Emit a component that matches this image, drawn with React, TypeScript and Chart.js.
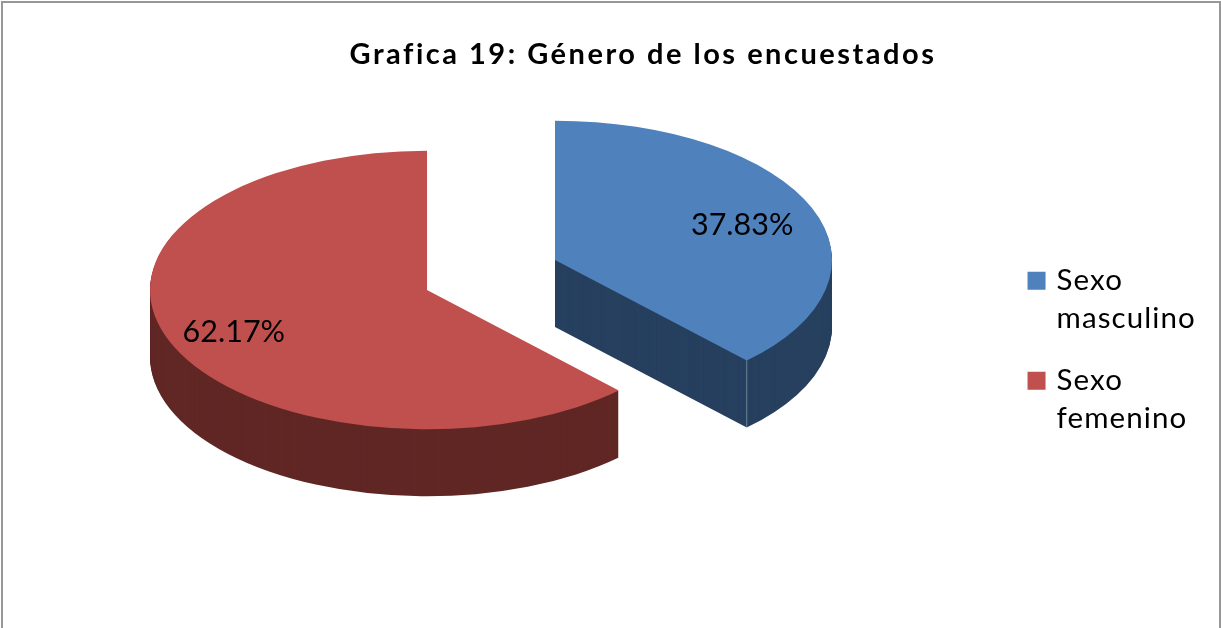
import React, { useEffect, useRef } from "react";
import { Chart, registerables } from "chart.js";

Chart.register(...registerables);

const titleText = "Grafica 19: Género de los encuestados";
const categories = [["Sexo", "masculino"], ["Sexo", "femenino"]];
const shares = [37.83, 62.17];
const faceColors = ["#4F81BD", "#C0504D"];
const sideColors = ["#27405F", "#602725"];
const sliceShift = [[128, -30], [0, 0]];

const FONT = "Lato, Carlito, 'Open Sans', sans-serif";
const PIE = { cx: 427, cy: 290, rx: 277, tilt: 0.503, depth: 67, labelAt: 0.74, labelDx: -3, labelDy: 4 };
const LEGEND_SHIFT = [0, 40];

const pie3d = {
  id: "pie3d",
  beforeDraw(chart: any) {
    if (chart.$patched) return;
    chart.$patched = true;
    const ctx = chart.ctx;
    const wrap = (box: any, spacing: string, dx: number, dy: number) => {
      const orig = box.draw;
      box.draw = function (...a: any[]) {
        ctx.save();
        ctx.letterSpacing = spacing;
        ctx.translate(dx, dy);
        orig.apply(this, a);
        ctx.restore();
      };
    };
    wrap(chart.titleBlock, "2.5px", 45, -1);
    wrap(chart.legend, "1.1px", LEGEND_SHIFT[0], LEGEND_SHIFT[1]);
  },
  beforeDatasetsDraw(chart: any) {
    const ctx = chart.ctx;
    const arcs = chart.getDatasetMeta(0).data;
    const place = (arc: any, i: number, drop: number) => {
      const s = PIE.rx / arc.outerRadius;
      ctx.translate(PIE.cx + sliceShift[i][0], PIE.cy + sliceShift[i][1] + drop);
      ctx.scale(s, s * PIE.tilt);
      ctx.translate(-arc.x, -arc.y);
    };
    arcs.forEach((arc: any, i: number) => {
      const saved = arc.options;
      arc.options = Object.assign(Object.create(saved), { backgroundColor: sideColors[i] });
      for (let d = PIE.depth; d >= 1; d--) {
        ctx.save();
        place(arc, i, d);
        arc.draw(ctx);
        ctx.restore();
      }
      arc.options = saved;
    });
    arcs.forEach((arc: any, i: number) => {
      ctx.save();
      place(arc, i, 0);
      arc.draw(ctx);
      ctx.restore();
    });
    // pale seam down the front corner of the lifted slice
    const a0 = arcs[0];
    const tx = PIE.cx + sliceShift[0][0] + Math.cos(a0.endAngle) * PIE.rx;
    const ty = PIE.cy + sliceShift[0][1] + Math.sin(a0.endAngle) * PIE.rx * PIE.tilt;
    ctx.save();
    ctx.strokeStyle = "rgba(255,255,255,0.35)";
    ctx.lineWidth = 1;
    ctx.beginPath();
    ctx.moveTo(tx, ty);
    ctx.lineTo(tx, ty + PIE.depth);
    ctx.stroke();
    ctx.restore();

    ctx.save();
    ctx.font = `30.5px ${FONT}`;
    ctx.fillStyle = "#000";
    ctx.textAlign = "center";
    ctx.textBaseline = "middle";
    arcs.forEach((arc: any, i: number) => {
      const mid = (arc.startAngle + arc.endAngle) / 2;
      const x = PIE.cx + sliceShift[i][0] + Math.cos(mid) * PIE.rx * PIE.labelAt + PIE.labelDx;
      const y = PIE.cy + sliceShift[i][1] + Math.sin(mid) * PIE.rx * PIE.tilt * PIE.labelAt + PIE.labelDy;
      ctx.fillText(`${shares[i].toFixed(2)}%`, x, y);
    });
    ctx.restore();
    return false;
  },
  afterDraw(chart: any) {
    const ctx = chart.ctx;
    ctx.save();
    ctx.strokeStyle = "#979797";
    ctx.lineWidth = 2;
    ctx.strokeRect(2, 2, 1218, 640);
    ctx.restore();
  },
};

export default function App() {
  const ref = useRef<HTMLCanvasElement>(null);
  useEffect(() => {
    document.body.style.margin = "0";
    const chart = new Chart(ref.current!, {
      type: "pie",
      data: {
        labels: categories as any,
        datasets: [{ data: shares, backgroundColor: faceColors, borderWidth: 0, hoverOffset: 0 }],
      },
      options: {
        responsive: false,
        animation: false,
        layout: { padding: { right: 25, top: 0, bottom: 0 } },
        plugins: {
          tooltip: { enabled: false },
          title: {
            display: true,
            text: titleText,
            color: "#000",
            font: { family: FONT, size: 29, weight: "bold", lineHeight: 1.2 },
            padding: { top: 38, bottom: 30 },
          },
          legend: {
            display: true,
            position: "right",
            onClick: () => {},
            labels: {
              color: "#000",
              boxWidth: 10.5,
              boxHeight: 10.5,
              padding: 24,
              font: { family: FONT, size: 29.5, lineHeight: 1.288 },
              generateLabels(c: any) {
                return Chart.overrides.pie.plugins.legend.labels.generateLabels(c).map((it: any) => ({
                  ...it,
                  strokeStyle: it.fillStyle,
                  lineWidth: 7.5,
                }));
              },
            },
          },
        },
      },
      plugins: [pie3d],
    } as any);
    return () => chart.destroy();
  }, []);
  return <canvas ref={ref} width={1221} height={628} style={{ display: "block", width: 1221, height: 628 }} />;
}
